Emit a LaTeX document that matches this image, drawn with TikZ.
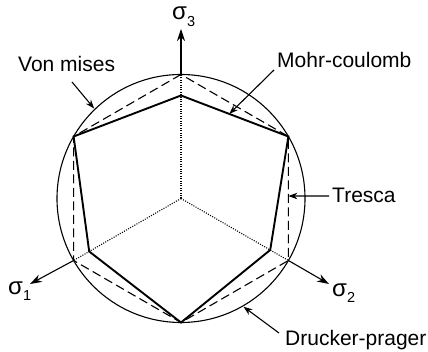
\documentclass[tikz,border=0pt]{standalone}
\usepackage{fontspec}
\setmainfont{Liberation Sans}
\usetikzlibrary{arrows.meta,calc}
\begin{document}
\begin{tikzpicture}[x=1pt,y=1pt,
  lbl/.style={font=\fontsize{21}{24}\selectfont, inner sep=0pt, anchor=base west},
  sig/.style={font=\fontsize{24}{26}\selectfont, inner sep=0pt, anchor=base west},
  ptr/.style={line width=1.1pt, -{Stealth[length=9pt,width=6.5pt]}},
  axisarrow/.style={line width=1.1pt, -{Stealth[length=12pt,width=8pt]}},
  vonmises/.style={line width=1.1pt},
  tresca/.style={line width=1.1pt, dash pattern=on 9pt off 4.5pt},
  mohr/.style={line width=1.9pt, line join=miter},
  axisdot/.style={line width=1.1pt, dash pattern=on 1pt off 1.4pt}
]
\useasboundingbox (0,0) rectangle (428,352);
\coordinate (C) at (181,153.5);
% Tresca / outer vertices on the circle
\coordinate (T90)  at ($(C)+(90:124)$);
\coordinate (T150) at ($(C)+(150:124)$);
\coordinate (T210) at ($(C)+(210:124)$);
\coordinate (T270) at ($(C)+(270:124)$);
\coordinate (T330) at ($(C)+(330:124)$);
\coordinate (T30)  at ($(C)+(30:124)$);
% Mohr-Coulomb inner vertices
\coordinate (M90)  at ($(C)+(90:103)$);
\coordinate (M210) at ($(C)+(210:106)$);
\coordinate (M330) at ($(C)+(330:103)$);
% axis arrow tips
\coordinate (A3) at (181,323);
\coordinate (A1) at (30,68);
\coordinate (A2) at (329,68);

% circle (von Mises / Drucker-Prager)
\draw[vonmises] (C) circle[radius=124];
% Tresca hexagon
\draw[tresca] (T90) -- (T150) -- (T210) -- (T270) -- (T330) -- (T30) -- cycle;
% Mohr-Coulomb
\draw[mohr] (M90) -- (T150) -- (M210) -- (T270) -- (M330) -- (T30) -- cycle;
% dotted axes
\draw[axisdot] (C) -- (T90);
\draw[axisdot] (C) -- (T210);
\draw[axisdot] (C) -- (T330);
% axis arrows
\draw[axisarrow] (T90) -- (A3);
\draw[axisarrow] (T210) -- (A1);
\draw[axisarrow] (T330) -- (A2);

% axis labels
\node[sig] (s3) at (172,332) {σ\raisebox{-7pt}{\fontsize{14.5}{15}\selectfont 3}};
\node[sig] (s1) at (8,57) {σ\raisebox{-6pt}{\fontsize{14.5}{15}\selectfont 1}};
\node[sig] (s2) at (332,55) {σ\raisebox{-6pt}{\fontsize{14.5}{15}\selectfont 2}};

% labels with pointers
\node[lbl] (vm) at (18,280) {Von mises};
\coordinate (vmS) at (72,270);
\coordinate (vmE) at ($(C)+(134:125)$);
\draw[ptr] (vmS) -- (vmE);

\node[lbl] (mc) at (277,284) {Mohr-coulomb};
\coordinate (mcS) at (274,282);
\coordinate (mcE) at ($(M90)!0.45!(T30)$);
\draw[ptr] (mcS) -- (mcE);

\node[lbl] (tr) at (332,149) {Tresca};
\coordinate (trS) at (329,156);
\coordinate (trE) at ($(T330)!0.52!(T30)$);
\draw[ptr] (trS) -- (trE);

\node[lbl] (dp) at (285,6) {Drucker-prager};
\coordinate (dpS) at (279,19);
\coordinate (dpE) at ($(C)+(-60:125)$);
\draw[ptr] (dpS) -- (dpE);
\end{tikzpicture}
\end{document}
